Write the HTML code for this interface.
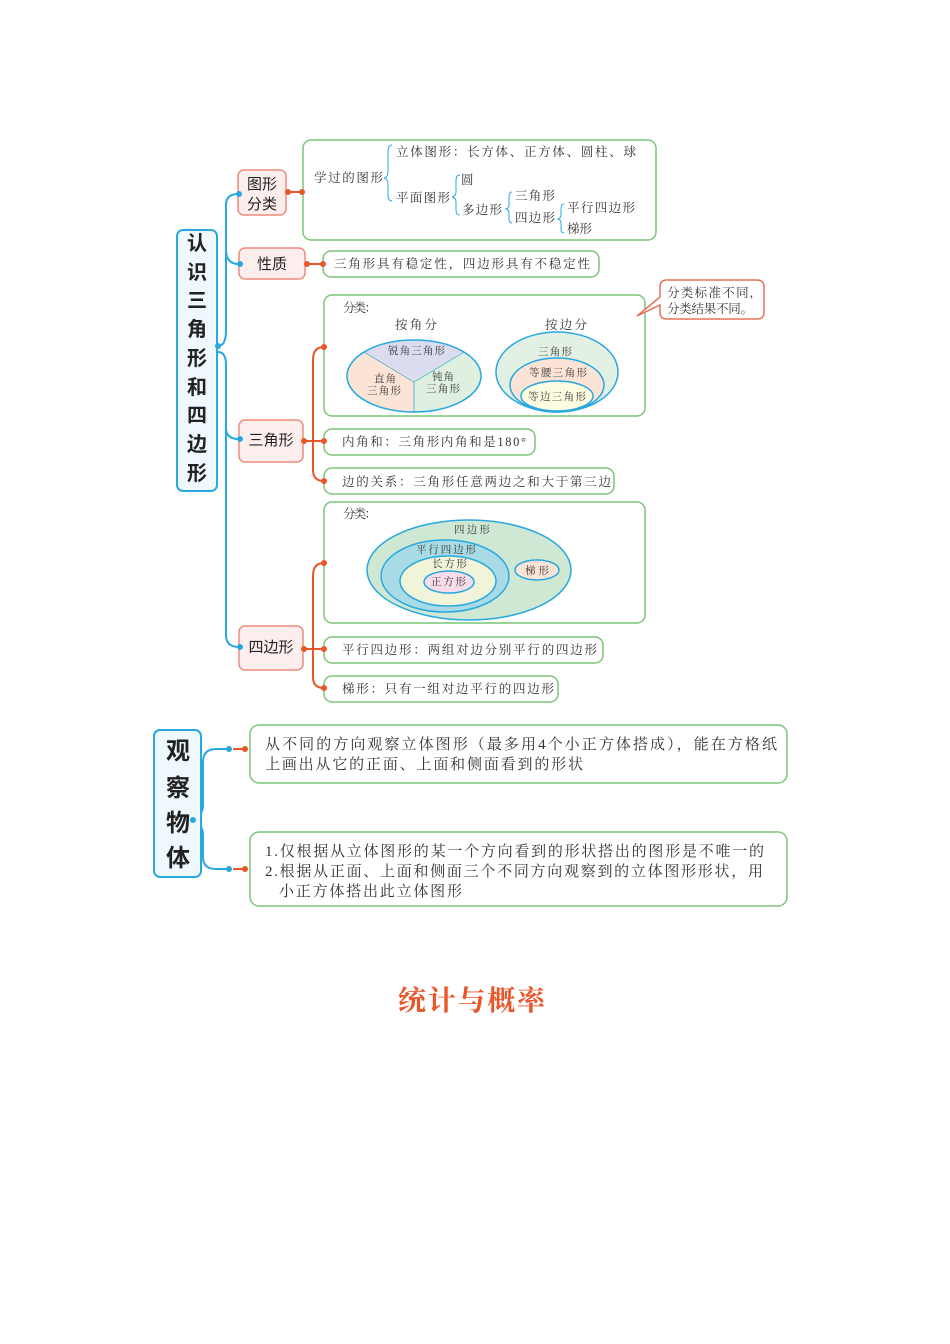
<!DOCTYPE html>
<html><head><meta charset="utf-8"><style>
html,body{margin:0;padding:0;background:#fff;}
svg{display:block;}
text{font-family:"Liberation Serif","Noto Serif CJK SC",serif;fill:#333;}
.s{font-family:"Liberation Sans","Noto Sans CJK SC",sans-serif;font-weight:bold;fill:#222;}
</style></head><body>
<svg width="950" height="1344" viewBox="0 0 950 1344" xmlns="http://www.w3.org/2000/svg">
<g fill="none" stroke-width="1.5">
<path d="M218 346 Q226 346 226 330 L226 205 Q226 194 238 194" stroke="#29a8e0" stroke-width="2"/>
<path d="M226 250 Q226 264 239 264" stroke="#29a8e0" stroke-width="2"/>
<path d="M218 352 Q226 352 226 365 L226 635 Q226 647 239 647" stroke="#29a8e0" stroke-width="2"/>
<path d="M226 428 Q226 439 239 439" stroke="#29a8e0" stroke-width="2"/>
<path d="M286 192 L302 192" stroke="#e8572a" stroke-width="2"/>
<path d="M305 264 L323 264" stroke="#e8572a" stroke-width="2"/>
<path d="M303 441 L324 441" stroke="#e8572a" stroke-width="2"/>
<path d="M324 347 Q313 347 313 360 L313 470 Q313 481 324 481" stroke="#e8572a" stroke-width="2"/>
<path d="M303 649 L324 649" stroke="#e8572a" stroke-width="2"/>
<path d="M324 563 Q313 563 313 576 L313 677 Q313 688 324 688" stroke="#e8572a" stroke-width="2"/>
<rect x="177" y="230" width="40" height="261" rx="6" fill="#eef8fd" stroke="#29a8e0" stroke-width="2"/>
<rect x="238" y="170" width="48" height="45" rx="6" fill="#fdeeee" stroke="#f08c7c"/>
<rect x="239" y="248" width="66" height="31" rx="6" fill="#fdeeee" stroke="#f08c7c"/>
<rect x="239" y="420" width="64" height="42" rx="6" fill="#fdeeee" stroke="#f08c7c"/>
<rect x="239" y="626" width="64" height="44" rx="6" fill="#fdeeee" stroke="#f08c7c"/>
<rect x="303" y="140" width="353" height="100" rx="8" stroke="#7cc576"/>
<rect x="323" y="251" width="276" height="26" rx="8" stroke="#7cc576"/>
<rect x="324" y="295" width="321" height="121" rx="8" stroke="#7cc576"/>
<rect x="324" y="429" width="211" height="26" rx="8" stroke="#7cc576"/>
<rect x="324" y="468" width="290" height="26" rx="8" stroke="#7cc576"/>
<rect x="324" y="502" width="321" height="121" rx="8" stroke="#7cc576"/>
<rect x="324" y="637" width="279" height="26" rx="8" stroke="#7cc576"/>
<rect x="324" y="676" width="234" height="26" rx="8" stroke="#7cc576"/>
<path d="M667 280 H757 Q764 280 764 287 V312 Q764 319 757 319 H667 Q660 319 660 312 V305 L637 316 L660 297 V287 Q660 280 667 280 Z" fill="#fff" stroke="#e8705a"/>
<path d="M392 145 Q388 145 388 152 L388 172 Q388 177 384 178 Q388 179 388 184 L388 195 Q388 201 392 201" stroke="#29a8e0" stroke-width="1"/>
<path d="M460 175 Q456 175 456 181 L456 192 Q456 196 452 197 Q456 198 456 202 L456 210 Q456 215 460 215" stroke="#29a8e0" stroke-width="1"/>
<path d="M512 192 Q509 192 509 197 L509 205 Q509 208 506 209 Q509 210 509 213 L509 219 Q509 223 512 223" stroke="#29a8e0" stroke-width="1"/>
<path d="M564 204 Q561 204 561 209 L561 215 Q561 218 558 219 Q561 220 561 223 L561 229 Q561 233 564 233" stroke="#29a8e0" stroke-width="1"/>
<clipPath id="ce"><ellipse cx="414" cy="376" rx="67" ry="36"/></clipPath>
<g clip-path="url(#ce)" stroke="none">
<rect x="340" y="330" width="150" height="90" fill="#fbe3d6"/>
<path d="M414 380 L414 420 L490 420 L490 330 L470 340 Z" fill="#e0f0e0"/>
<path d="M414 380 L362 350 L360 330 L470 330 L466 350 Z" fill="#dcdcf0"/>
</g>
<path d="M414 382 L364 352 M414 382 L464 352 M414 382 L414 412" stroke="#5ab4dc" stroke-width="1"/>
<ellipse cx="414" cy="376" rx="67" ry="36" stroke="#29a8e0"/>
<ellipse cx="557" cy="372" rx="61" ry="40" fill="#e2f1e4" stroke="#29a8e0"/>
<ellipse cx="557" cy="385" rx="47" ry="27" fill="#fbe3d6" stroke="#29a8e0"/>
<ellipse cx="557" cy="396" rx="36" ry="15" fill="#fdfbe0" stroke="#29a8e0"/>
<ellipse cx="469" cy="570" rx="102" ry="50" fill="#cfe8d4" stroke="#29a8e0"/>
<ellipse cx="445" cy="576" rx="64" ry="36" fill="#a9dbe6" stroke="#29a8e0"/>
<ellipse cx="448" cy="581" rx="48" ry="25" fill="#f0f4d8" stroke="#29a8e0"/>
<ellipse cx="449" cy="582" rx="25" ry="11" fill="#f9dcea" stroke="#29a8e0"/>
<ellipse cx="537" cy="570" rx="22" ry="10" fill="#fbe3d6" stroke="#29a8e0"/>
<path d="M193 816 Q203 816 203 805 L203 762 Q203 749 216 749 L229 749" stroke="#29a8e0" stroke-width="2"/>
<path d="M193 824 Q203 824 203 835 L203 857 Q203 869 216 869 L229 869" stroke="#29a8e0" stroke-width="2"/>
<path d="M233 749 H245 M233 869 H245" stroke="#e8572a" stroke-width="2"/>
<rect x="154" y="730" width="47" height="147" rx="6" fill="#eef8fd" stroke="#29a8e0" stroke-width="2"/>
<rect x="250" y="725" width="537" height="58" rx="9" stroke="#7cc576"/>
<rect x="250" y="832" width="537" height="74" rx="9" stroke="#7cc576"/>
</g>
<g fill="#29a8e0">
<circle cx="218" cy="346" r="3"/><circle cx="239" cy="194" r="3"/><circle cx="240" cy="264" r="3"/>
<circle cx="240" cy="439" r="3"/><circle cx="240" cy="647" r="3"/>
<circle cx="193" cy="820" r="3"/><circle cx="229" cy="749" r="3"/><circle cx="229" cy="869" r="3"/>
</g>
<g fill="#e8572a">
<circle cx="288" cy="192" r="3"/><circle cx="302" cy="192" r="3"/>
<circle cx="307" cy="264" r="3"/><circle cx="323" cy="264" r="3"/>
<circle cx="304" cy="441" r="3"/><circle cx="324" cy="441" r="3"/><circle cx="324" cy="347" r="3"/><circle cx="324" cy="481" r="3"/>
<circle cx="304" cy="649" r="3"/><circle cx="324" cy="649" r="3"/><circle cx="324" cy="563" r="3"/><circle cx="324" cy="688" r="3"/>
<circle cx="245" cy="749" r="3"/><circle cx="245" cy="869" r="3"/>
</g>
<g font-size="20" text-anchor="middle">
<text class="s" x="197" y="250">认</text><text class="s" x="197" y="279">识</text><text class="s" x="197" y="307">三</text>
<text class="s" x="197" y="336">角</text><text class="s" x="197" y="365">形</text><text class="s" x="197" y="394">和</text>
<text class="s" x="197" y="422">四</text><text class="s" x="197" y="451">边</text><text class="s" x="197" y="480">形</text>
</g>
<g font-size="24" text-anchor="middle">
<text class="s" x="178" y="759">观</text><text class="s" x="178" y="796">察</text><text class="s" x="178" y="831">物</text><text class="s" x="178" y="866">体</text>
</g>
<g font-size="15" text-anchor="middle">
<text class="s" x="262" y="189" style="font-weight:normal">图形</text><text class="s" x="262" y="209" style="font-weight:normal">分类</text>
<text class="s" x="272" y="269" style="font-weight:normal">性质</text>
<text class="s" x="271" y="445" style="font-weight:normal">三角形</text>
<text class="s" x="271" y="652" style="font-weight:normal">四边形</text>
</g>
<g font-size="12.5">
<text x="314" y="182" textLength="69">学过的图形</text>
<text x="396" y="156" textLength="240">立体图形：长方体、正方体、圆柱、球</text>
<text x="396" y="202" textLength="54">平面图形</text>
<text x="461" y="184">圆</text>
<text x="462" y="214" textLength="40">多边形</text>
<text x="515" y="200" textLength="40">三角形</text>
<text x="515" y="222" textLength="40">四边形</text>
<text x="567" y="212" textLength="68">平行四边形</text>
<text x="567" y="233" textLength="25">梯形</text>
<text x="334" y="268" textLength="256">三角形具有稳定性，四边形具有不稳定性</text>
<text x="343" y="312" textLength="34">分类：</text>
<text x="395" y="329" textLength="42">按角分</text>
<text x="545" y="329" textLength="42">按边分</text>
<text x="342" y="446" textLength="184">内角和：三角形内角和是180°</text>
<text x="342" y="486" textLength="269">边的关系：三角形任意两边之和大于第三边</text>
<text x="343" y="518" textLength="34">分类：</text>
<text x="342" y="654" textLength="255">平行四边形：两组对边分别平行的四边形</text>
<text x="342" y="693" textLength="212">梯形：只有一组对边平行的四边形</text>
</g>
<g font-size="10.5">
<text x="388" y="354" textLength="57">锐角三角形</text>
<text x="374" y="382" textLength="22">直角</text><text x="367" y="394" textLength="34">三角形</text>
<text x="432" y="380" textLength="22">钝角</text><text x="426" y="392" textLength="34">三角形</text>
<text x="538" y="355" textLength="34">三角形</text>
<text x="529" y="376" textLength="58">等腰三角形</text>
<text x="528" y="400" textLength="58">等边三角形</text>
<text x="454" y="533" textLength="36">四边形</text>
<text x="416" y="553" textLength="60">平行四边形</text>
<text x="432" y="567" textLength="35">长方形</text>
<text x="431" y="585" textLength="35">正方形</text>
<text x="525" y="574" textLength="24">梯形</text>
</g>
<g font-size="12.5"><text x="667" y="297" textLength="86">分类标准不同,</text><text x="667" y="313" textLength="86">分类结果不同。</text></g>
<g font-size="15">
<text x="265" y="749" textLength="512">从不同的方向观察立体图形（最多用4个小正方体搭成），能在方格纸</text>
<text x="265" y="769" textLength="318">上画出从它的正面、上面和侧面看到的形状</text>
<text x="265" y="856" textLength="499">1.仅根据从立体图形的某一个方向看到的形状搭出的图形是不唯一的</text>
<text x="265" y="876" textLength="498">2.根据从正面、上面和侧面三个不同方向观察到的立体图形形状，用</text>
<text x="279" y="896" textLength="183">小正方体搭出此立体图形</text>
</g>
<text x="398" y="1010" font-size="28" font-weight="bold" textLength="147" style="fill:#e8572a">统计与概率</text>
</svg>
</body></html>
